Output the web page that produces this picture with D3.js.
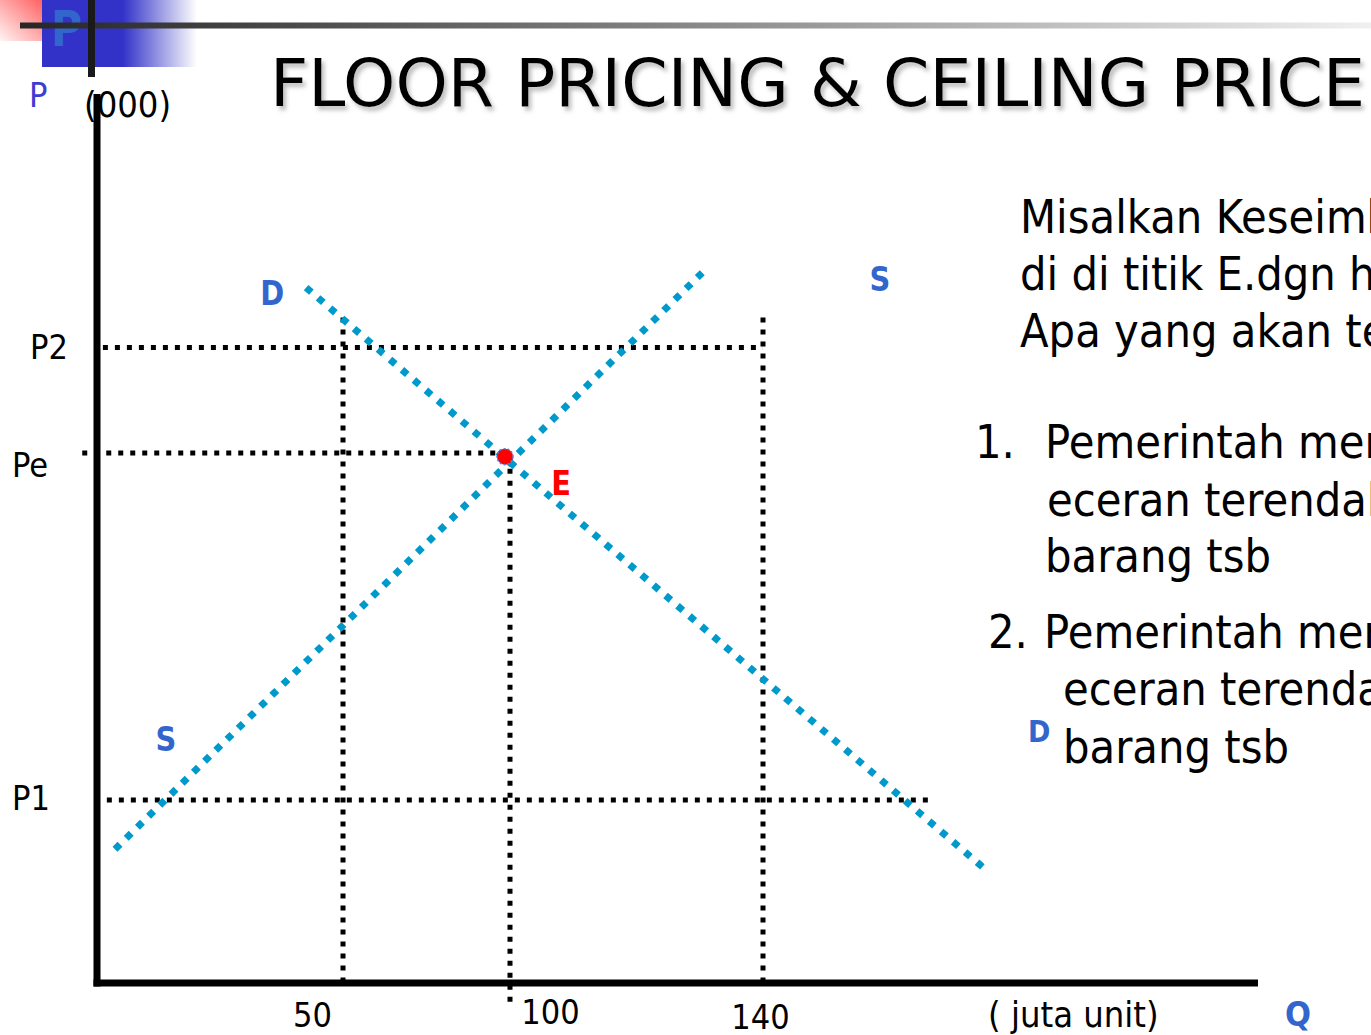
<!DOCTYPE html>
<html>
<head>
<meta charset="utf-8">
<script src="https://cdn.jsdelivr.net/npm/d3@7"></script>
<style>
  html, body { margin: 0; padding: 0; background: #fff; overflow: hidden; }
  svg { display: block; }
</style>
</head>
<body>
<svg id="chart" width="1371" height="1035"></svg>
<script>
// ---------------- data ----------------
const titleText = "FLOOR PRICING & CEILING PRICE";
const quantityTicks = [50, 100, 140];
const quantityTickLabels = ["50", "100", "140"];
const priceLevels = [20.8, 60.2, 72.2];          // P1, Pe, P2 (schematic price units)
const priceTickLabels = ["P1", "Pe", "P2"];
const demandCurve = [{q: 42.5, p: 79.0}, {q: 174.7, p: 13.2}];
const supplyCurve = [{q: 3.66, p: 15.2}, {q: 130.4, p: 80.7}];
const equilibrium = {q: 98.5, p: 59.8};
const priceGuides = [            // horizontal dotted guides
  {p: 72.2, q0: 1.2, q1: 140},
  {p: 60.2, q0: -3, q1: 98.5},
  {p: 20.8, q0: 2, q1: 166.4}
];
const quantityGuides = [         // vertical dotted guides
  {q: 50, p0: 75.6, p1: 0},
  {q: 100, p0: 59.8, p1: -2.3},
  {q: 140, p0: 75.6, p1: 0}
];
const curveLabels = [
  {text: "D", q: 35.6, p: 77.0},
  {text: "S", q: 158.5, p: 78.6},
  {text: "S", q: 14.0, p: 26.4}
];
const textLines = [
  "Misalkan Keseimbangan",
  "di di titik E.dgn harga",
  "Apa yang akan terjadi"
];
const listMarkers = ["1.", "2."];
const listItems = [
  ["Pemerintah menetapkan", "eceran terendah", "barang tsb"],
  ["Pemerintah menetapkan", "eceran terendah", "barang tsb"]
];

// ---------------- layout ----------------
const svg = d3.select("#chart");
const x = d3.scaleLinear().domain([0, 50, 100, 140, 218.3]).range([97, 343, 510, 763, 1258]);
const y = d3.scaleLinear().domain([0, 101]).range([983, 94]);
const blue = "#0099cc", letterBlue = "#3366cc";
const font = "'DejaVu Sans', Verdana, sans-serif";

const defs = svg.append("defs");
const gPink = defs.append("linearGradient").attr("id", "pink")
  .attr("x1", 1).attr("y1", 0).attr("x2", 0).attr("y2", 1);
gPink.append("stop").attr("offset", 0).attr("stop-color", "#ff5c5c");
gPink.append("stop").attr("offset", 1).attr("stop-color", "#fff4f4");
const gBlue = defs.append("linearGradient").attr("id", "bluefade");
gBlue.append("stop").attr("offset", 0).attr("stop-color", "#3232c8");
gBlue.append("stop").attr("offset", 0.52).attr("stop-color", "#3232c8");
gBlue.append("stop").attr("offset", 1).attr("stop-color", "#3232c8").attr("stop-opacity", 0);
const gBar = defs.append("linearGradient").attr("id", "bar")
  .attr("gradientUnits", "userSpaceOnUse").attr("x1", 20).attr("x2", 1371).attr("y1", 0).attr("y2", 0);
gBar.append("stop").attr("offset", 0).attr("stop-color", "#262626");
gBar.append("stop").attr("offset", 0.2).attr("stop-color", "#4a4a4a");
gBar.append("stop").attr("offset", 1).attr("stop-color", "#f0f0f0");
const shadow = defs.append("filter").attr("id", "shadow").attr("x", "-5%").attr("y", "-20%").attr("width", "110%").attr("height", "150%");
shadow.append("feDropShadow").attr("dx", 3).attr("dy", 4).attr("stdDeviation", 2)
  .attr("flood-color", "#888").attr("flood-opacity", 0.55);

// ---------------- header decoration ----------------
svg.append("rect").attr("x", 0).attr("y", 0).attr("width", 46).attr("height", 41).attr("fill", "url(#pink)");
svg.append("rect").attr("x", 42).attr("y", 0).attr("width", 155).attr("height", 67).attr("fill", "url(#bluefade)");
svg.append("text").attr("transform", "translate(51,46) scale(0.85,1)")
  .attr("font-family", font).attr("font-weight", "bold").attr("font-size", 50)
  .attr("fill", letterBlue).text("P");
svg.append("rect").attr("x", 20).attr("y", 22.5).attr("width", 1351).attr("height", 6).attr("fill", "url(#bar)");
svg.append("rect").attr("x", 88).attr("y", 0).attr("width", 7).attr("height", 77).attr("fill", "#1a1a1a");

svg.append("text").attr("x", 270).attr("y", 106)
  .attr("font-family", font).attr("font-size", 66)
  .attr("textLength", 1095).attr("lengthAdjust", "spacingAndGlyphs")
  .attr("filter", "url(#shadow)").attr("fill", "#000").text(titleText);

// ---------------- guides ----------------
const dotted = svg.append("g").attr("stroke", "#000").attr("stroke-width", 5).attr("stroke-dasharray", "5,7").attr("fill", "none");
dotted.selectAll("line.h").data(priceGuides).join("line").attr("class", "h")
  .attr("x1", d => x(d.q0)).attr("x2", d => x(d.q1))
  .attr("y1", d => y(d.p)).attr("y2", d => y(d.p));
dotted.selectAll("line.v").data(quantityGuides).join("line").attr("class", "v")
  .attr("x1", d => x(d.q)).attr("x2", d => x(d.q))
  .attr("y1", d => y(d.p0)).attr("y2", d => y(d.p1));

// ---------------- axes ----------------
const xAxis = d3.axisBottom(x).tickValues(quantityTicks).tickSize(0)
  .tickFormat((d, i) => quantityTickLabels[i]);
const gx = svg.append("g").attr("transform", `translate(0,${y(0)})`).call(xAxis);
gx.select(".domain").attr("stroke", "#000").attr("stroke-width", 7).attr("d", `M${x(0) - 3.5},0H${x(218.3)}`);
const xNudge = [[-31, 44], [40, 41], [-3, 46]];
gx.selectAll(".tick text").attr("font-family", font).attr("font-size", 34).attr("fill", "#000")
  .attr("dy", null).attr("y", 0)
  .attr("transform", (d, i) => `translate(${xNudge[i][0]},${xNudge[i][1]}) scale(0.9,1)`);

const yAxis = d3.axisLeft(y).tickValues(priceLevels).tickSize(0)
  .tickFormat((d, i) => priceTickLabels[i]);
const gy = svg.append("g").attr("transform", `translate(${x(0)},0)`).call(yAxis);
gy.select(".domain").attr("stroke", "#000").attr("stroke-width", 7).attr("d", `M0,${y(101)}V${y(0) + 3.5}`);
const yNudge = [[-85, 10], [-85, 23], [-67, 11]];
gy.selectAll(".tick text").attr("font-family", font).attr("font-size", 34).attr("fill", "#000")
  .attr("text-anchor", "start").attr("dy", null).attr("x", 0)
  .attr("transform", (d, i) => `translate(${yNudge[i][0]},${yNudge[i][1]}) scale(0.9,1)`);

svg.append("text").attr("transform", "translate(29,107) scale(0.9,1)")
  .attr("font-family", font).attr("font-size", 34).attr("fill", "#3c3cd2").text("P");
svg.append("text").attr("transform", "translate(84,117) scale(0.9,1)")
  .attr("font-family", font).attr("font-size", 36).attr("fill", "#000").text("(000)");
svg.append("text").attr("transform", "translate(988,1027) scale(0.9,1)")
  .attr("font-family", font).attr("font-size", 36).attr("fill", "#000").text("( juta unit)");
svg.append("text").attr("transform", "translate(1285,1026) scale(0.9,1)")
  .attr("font-family", font).attr("font-weight", "bold").attr("font-size", 34).attr("fill", letterBlue).text("Q");

// ---------------- curves ----------------
const line = d3.line().x(d => x(d.q)).y(d => y(d.p));
const dotSize = 7, targetPeriod = 15.8;
svg.selectAll("path.curve").data([demandCurve, supplyCurve]).join("path").attr("class", "curve")
  .attr("d", line).attr("fill", "none").attr("stroke", blue)
  .attr("stroke-width", dotSize)
  .attr("stroke-dasharray", function () {
    const L = this.getTotalLength();
    const n = Math.round((L - dotSize) / targetPeriod);
    const period = (L - dotSize) / n;
    return `${dotSize},${period - dotSize}`;
  });

svg.append("circle").attr("cx", x(equilibrium.q)).attr("cy", y(equilibrium.p)).attr("r", 8)
  .attr("fill", "#ff0000").attr("stroke", "#5b7fd6").attr("stroke-width", 1.5).attr("stroke-dasharray", "2,2");
svg.append("text").attr("transform", `translate(${x(108.1)},${y(55.4)}) scale(0.85,1)`)
  .attr("text-anchor", "middle").attr("font-family", font).attr("font-weight", "bold")
  .attr("font-size", 34).attr("fill", "#ff0000").text("E");

svg.selectAll("text.curveLabel").data(curveLabels).join("text").attr("class", "curveLabel")
  .attr("transform", d => `translate(${x(d.q)},${y(d.p)}) scale(0.85,1)`)
  .attr("text-anchor", "middle").attr("font-family", font).attr("font-weight", "bold")
  .attr("font-size", 34).attr("fill", letterBlue).text(d => d.text);

// ---------------- right text block ----------------
const tb = svg.append("g").attr("font-family", font).attr("font-size", 47).attr("fill", "#000");
const introBase = [233, 290, 347];
textLines.forEach((t, i) => {
  tb.append("text").attr("transform", `translate(1020,${introBase[i]}) scale(0.89,1)`).text(t);
});
const markerPos = [[975, 458], [988, 648]];
listMarkers.forEach((m, i) => {
  tb.append("text").attr("transform", `translate(${markerPos[i][0]},${markerPos[i][1]}) scale(0.89,1)`).text(m);
});
const itemPos = [
  [[1045, 458], [1047, 516], [1045, 572]],
  [[1044, 648], [1063, 705], [1063, 763]]
];
listItems.forEach((item, i) => item.forEach((t, j) => {
  tb.append("text").attr("transform", `translate(${itemPos[i][j][0]},${itemPos[i][j][1]}) scale(0.89,1)`).text(t);
}));
svg.append("text").attr("transform", "translate(1028,742) scale(0.9,1)")
  .attr("font-family", font).attr("font-weight", "bold").attr("font-size", 30).attr("fill", letterBlue).text("D");
</script>
</body>
</html>
